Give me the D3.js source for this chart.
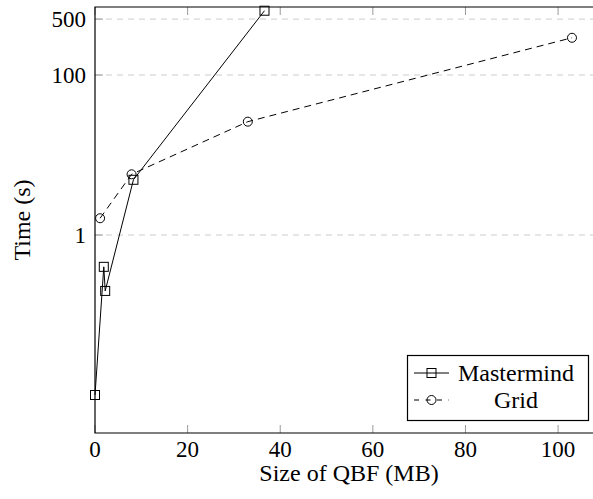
<!DOCTYPE html>
<html>
<head>
<meta charset="utf-8">
<script src="https://cdn.jsdelivr.net/npm/d3@7"></script>
<style>
  text { font-family: "Liberation Serif" !important; }
</style>
</head>
<body style="margin:0">
<div id="chart"></div>
<script>
// data
const mastermindX = [0, 1.9, 2.2, 8.3, 36.6];
const mastermindY = [0.01, 0.40, 0.20, 4.9, 636];
const gridX = [1.1, 7.9, 33.0, 103.0];
const gridY = [1.62, 5.74, 26.1, 292];
const xTicks = [0, 20, 40, 60, 80, 100];
const yTicks = [1, 100, 500];
const seriesNames = ["Mastermind", "Grid"];

const width = 593, height = 499;
const plot = { left: 95, right: 603, top: 7, bottom: 433 };
const fontName = "Liberation Serif";

const svg = d3.select("#chart").append("svg")
  .attr("width", width)
  .attr("height", height);

function label(sel, size) {
  return sel
    .style("font-family", () => `"${fontName}"`)
    .style("font-size", () => size + "px");
}

const x = d3.scaleLinear()
  .domain([0, 109.7])
  .range([plot.left, plot.right]);

const y = d3.scaleLog()
  .domain([0.00335, 708])
  .range([plot.bottom, plot.top]);

// dashed horizontal grid
svg.append("g")
  .selectAll("line")
  .data(yTicks)
  .enter()
  .append("line")
  .attr("x1", plot.left)
  .attr("x2", plot.right)
  .attr("y1", d => y(d))
  .attr("y2", d => y(d))
  .attr("stroke", "#cccccc")
  .attr("stroke-width", 1)
  .attr("stroke-dasharray", "6,5");

// tick marks (inside, mirrored on top)
const tickLen = 8;
svg.append("g")
  .selectAll("line")
  .data(xTicks)
  .enter()
  .append("line")
  .attr("x1", d => x(d)).attr("x2", d => x(d))
  .attr("y1", plot.bottom).attr("y2", plot.bottom - tickLen)
  .attr("stroke", "#999");

svg.append("g")
  .selectAll("line")
  .data(xTicks)
  .enter()
  .append("line")
  .attr("x1", d => x(d)).attr("x2", d => x(d))
  .attr("y1", plot.top).attr("y2", plot.top + tickLen)
  .attr("stroke", "#999");

svg.append("g")
  .selectAll("line")
  .data(yTicks)
  .enter()
  .append("line")
  .attr("x1", plot.left).attr("x2", plot.left + tickLen)
  .attr("y1", d => y(d)).attr("y2", d => y(d))
  .attr("stroke", "#999");

// series lines
const mmData = mastermindX.map((d, i) => [d, mastermindY[i]]);
const gridData = gridX.map((d, i) => [d, gridY[i]]);

const line = d3.line()
  .x(d => x(d[0]))
  .y(d => y(d[1]));

svg.append("path")
  .datum(mmData)
  .attr("d", line)
  .attr("fill", "none")
  .attr("stroke", "#000")
  .attr("stroke-width", 1);

svg.append("path")
  .datum(gridData)
  .attr("d", line)
  .attr("fill", "none")
  .attr("stroke", "#000")
  .attr("stroke-width", 1)
  .attr("stroke-dasharray", "7,5");

// markers
const sq = 9;
svg.append("g")
  .selectAll("rect")
  .data(mmData)
  .enter()
  .append("rect")
  .attr("x", d => x(d[0]) - sq / 2)
  .attr("y", d => y(d[1]) - sq / 2)
  .attr("width", sq)
  .attr("height", sq)
  .attr("fill", "none")
  .attr("stroke", "#000")
  .attr("stroke-width", 1);

svg.append("g")
  .selectAll("circle")
  .data(gridData)
  .enter()
  .append("circle")
  .attr("cx", d => x(d[0]))
  .attr("cy", d => y(d[1]))
  .attr("r", 4.5)
  .attr("fill", "none")
  .attr("stroke", "#000")
  .attr("stroke-width", 1);

// axis frame (right side falls outside the window)
svg.append("path")
  .attr("d", `M${plot.right},${plot.top}H${plot.left}V${plot.bottom}H${plot.right}`)
  .attr("fill", "none")
  .attr("stroke", "#000")
  .attr("stroke-width", 1.2);

// tick labels
label(svg.append("g")
  .selectAll("text")
  .data(xTicks)
  .enter()
  .append("text")
  .attr("x", d => x(d))
  .attr("y", 457)
  .attr("text-anchor", "middle"), 23)
  .text(d => d);

label(svg.append("g")
  .selectAll("text")
  .data(yTicks)
  .enter()
  .append("text")
  .attr("x", 86)
  .attr("y", d => y(d) + 8)
  .attr("text-anchor", "end"), 23)
  .text(d => d);

// axis titles
label(svg.append("text")
  .attr("x", (plot.left + plot.right) / 2)
  .attr("y", 481)
  .attr("text-anchor", "middle"), 24)
  .text("Size of QBF (MB)");

label(svg.append("text")
  .attr("transform", `translate(30, ${(plot.top + plot.bottom) / 2}) rotate(-90)`)
  .attr("text-anchor", "middle"), 24)
  .text("Time (s)");

// legend
const legend = svg.append("g");
legend.append("rect")
  .attr("x", 407.5).attr("y", 355.5)
  .attr("width", 181).attr("height", 65)
  .attr("fill", "#fff")
  .attr("stroke", "#000")
  .attr("stroke-width", 1.2);

const rows = [373, 400];
// Mastermind sample
legend.append("line")
  .attr("x1", 414).attr("x2", 449)
  .attr("y1", rows[0]).attr("y2", rows[0])
  .attr("stroke", "#000");
legend.append("rect")
  .attr("x", 431.5 - sq / 2).attr("y", rows[0] - sq / 2)
  .attr("width", sq).attr("height", sq)
  .attr("fill", "none").attr("stroke", "#000");
// Grid sample
legend.append("line")
  .attr("x1", 414).attr("x2", 449)
  .attr("y1", rows[1]).attr("y2", rows[1])
  .attr("stroke", "#000")
  .attr("stroke-dasharray", "5,6.5");
legend.append("circle")
  .attr("cx", 431.5).attr("cy", rows[1]).attr("r", 4.5)
  .attr("fill", "none").attr("stroke", "#000");

label(legend.selectAll("text.lbl")
  .data(seriesNames)
  .enter()
  .append("text")
  .attr("class", "lbl")
  .attr("x", 516)
  .attr("y", (d, i) => rows[i] + 8)
  .attr("text-anchor", "middle"), 24)
  .text(d => d);
</script>
</body>
</html>
